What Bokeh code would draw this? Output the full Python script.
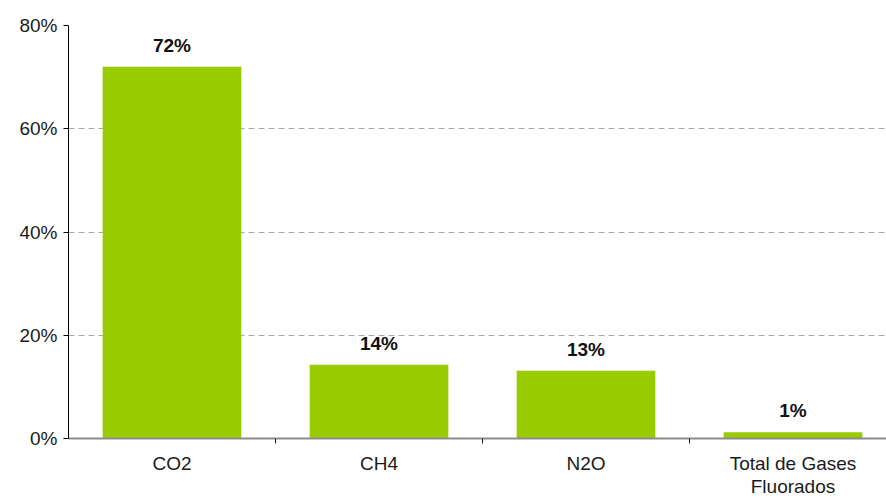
from bokeh.plotting import figure
from bokeh.models import ColumnDataSource, FixedTicker, PrintfTickFormatter, Range1d
from bokeh.core.properties import value
from bokeh.embed import file_html
from bokeh.resources import INLINE

categories = ["CO2", "CH4", "N2O", "Total de Gases\nFluorados"]
shares = [72.0, 14.3, 13.1, 1.2]
y_ticks = [0, 20, 40, 60, 80]

xs = list(range(1, len(categories) + 1))
labels = [f"{round(v)}%" for v in shares]
src = ColumnDataSource(dict(x=xs, top=shares, label=labels))

FONT = "Liberation Sans"

p = figure(width=886, height=499, output_backend="svg", toolbar_location=None,
           x_range=Range1d(0.5, 0.5 + 818 / 207), y_range=Range1d(0, 80),
           min_border_left=68, min_border_top=25, min_border_right=0,
           min_border_bottom=40)
p.outline_line_color = None
p.background_fill_color = "white"

p.vbar(x="x", top="top", width=0.67, bottom=0, source=src,
       fill_color="#99CC00", line_color=None)

p.text(x="x", y="top", text="label", source=src, text_align="center",
       text_baseline="bottom", y_offset=-11, text_font=value(FONT),
       text_font_size="19px", text_font_style="bold", text_color="#111111")

# grid
p.xgrid.visible = False
p.ygrid.ticker = FixedTicker(ticks=y_ticks)
p.ygrid.grid_line_color = "#A6A6A6"
p.ygrid.grid_line_dash = "6 4"
p.ygrid.grid_line_width = 1

# y axis
p.yaxis.ticker = FixedTicker(ticks=y_ticks)
p.yaxis.formatter = PrintfTickFormatter(format="%d%%")
p.yaxis.axis_line_color = "black"
p.yaxis.major_tick_line_color = "black"
p.yaxis.major_tick_out = 5
p.yaxis.major_tick_in = 0
p.yaxis.minor_tick_line_color = None
p.yaxis.major_label_text_font = FONT
p.yaxis.major_label_text_font_size = "19px"
p.yaxis.major_label_text_color = "#1a1a1a"
p.yaxis.major_label_standoff = 6

# x axis: labels at centres, ticks at category boundaries
p.xaxis.ticker = FixedTicker(ticks=xs, minor_ticks=[x + 0.5 for x in xs[:-1]])
p.xaxis.major_label_overrides = {x: c for x, c in zip(xs, categories)}
p.xaxis.axis_line_color = "#8C8C8C"
p.xaxis.axis_line_width = 2
p.xaxis.major_tick_line_color = None
p.xaxis.major_tick_out = 5
p.xaxis.major_tick_in = 0
p.xaxis.minor_tick_line_color = "#1a1a1a"
p.xaxis.minor_tick_out = 5
p.xaxis.minor_tick_in = 0
p.xaxis.major_label_text_font = FONT
p.xaxis.major_label_text_font_size = "19px"
p.xaxis.major_label_text_color = "#1a1a1a"
p.xaxis.major_label_standoff = 9
p.xaxis.major_label_text_line_height = 1.1

open("out.html", "w").write(file_html(p, INLINE))
